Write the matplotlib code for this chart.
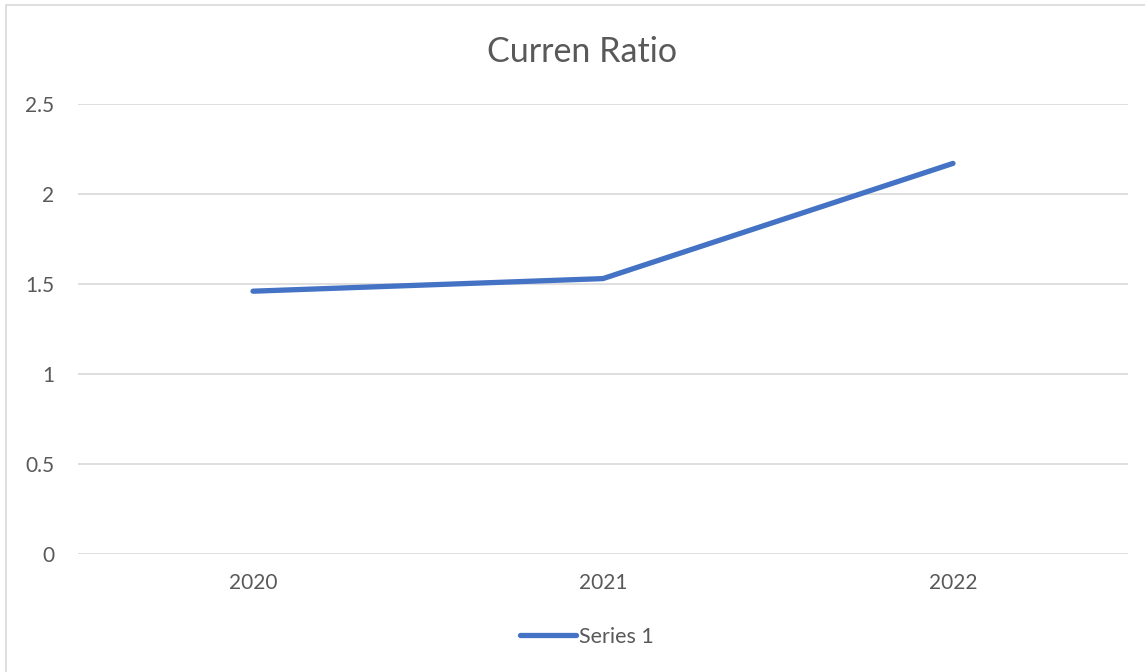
import matplotlib.pyplot as plt
from matplotlib.patches import Rectangle

years = ["2020", "2021", "2022"]
ratio = [1.46, 1.53, 2.17]
y_ticks = [0, 0.5, 1, 1.5, 2, 2.5]
y_labels = ["0", "0.5", "1", "1.5", "2", "2.5"]

plt.rcParams['font.family'] = ['Lato', 'DejaVu Sans']
txt = '#595959'
blue = '#4472C4'

fig = plt.figure(figsize=(11.45, 6.72), dpi=100)
ax = fig.add_axes([78 / 1145, 118 / 672, 1050 / 1145, 450 / 672])

# outer chart border
fig.patches.append(Rectangle((6 / 1145, -0.01), 1.1, 1 - 5 / 672 + 0.01,
                             transform=fig.transFigure, fill=False,
                             edgecolor='#D9D9D9', linewidth=1.2))

x = range(len(years))
ax.plot(x, ratio, color=blue, linewidth=3.8, solid_capstyle='round', label='Series 1')

ax.set_xlim(-0.5, len(years) - 0.5)
ax.set_ylim(0, 2.5)
ax.set_yticks(y_ticks)
ax.set_yticklabels(y_labels)
ax.set_xticks(list(x))
ax.set_xticklabels(years)
ax.yaxis.grid(True, color='#D9D9D9', linewidth=1.2)
ax.set_axisbelow(True)
for s in ax.spines.values():
    s.set_visible(False)
ax.tick_params(axis='y', length=0, pad=17, labelsize=15, labelcolor=txt)
ax.tick_params(axis='x', length=0, pad=14, labelsize=15, labelcolor=txt)

fig.text(582 / 1145, 1 - 52 / 672, "Curren Ratio", ha='center', va='center',
         fontsize=24.5, color=txt)

leg = fig.legend(loc='center', bbox_to_anchor=(587 / 1145, 1 - 637 / 672),
                 frameon=False, fontsize=15.5, handlelength=2.6, handletextpad=0.15)
for t in leg.get_texts():
    t.set_color(txt)

fig.savefig('out.png', dpi=100)
